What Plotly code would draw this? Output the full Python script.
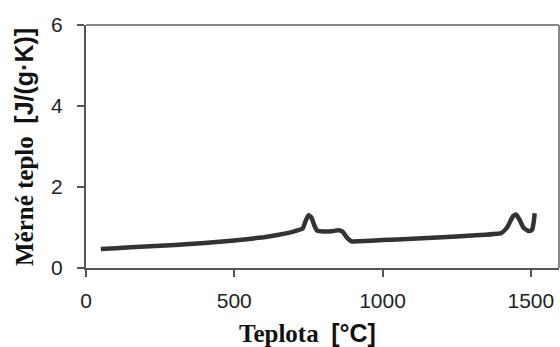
import plotly.graph_objects as go

temp = [50, 100, 200, 300, 400, 500, 600, 650, 700, 730, 740, 750, 760, 770, 780, 800, 830, 850, 865, 880, 895, 920,
        1000, 1100, 1200, 1300, 1400, 1420, 1440, 1450, 1460, 1475, 1490, 1500, 1505, 1510, 1513]
cp = [0.47, 0.49, 0.53, 0.57, 0.62, 0.68, 0.76, 0.82, 0.90, 0.97, 1.15, 1.30, 1.25, 1.05, 0.92, 0.90, 0.91, 0.93, 0.90, 0.75, 0.66, 0.66,
      0.69, 0.72, 0.76, 0.80, 0.86, 1.00, 1.28, 1.32, 1.22, 1.00, 0.92, 0.92, 0.96, 1.15, 1.35]
x_ticks = [0, 500, 1000, 1500]
y_ticks = [0, 2, 4, 6]

fig = go.Figure()
fig.add_trace(go.Scatter(x=temp, y=cp, mode="lines",
                         line=dict(color="#333333", width=4.5, shape="spline", smoothing=0.4),
                         showlegend=False))

tickfont = dict(family="Liberation Sans, Arial, sans-serif", size=21, color="#222222")
fig.update_layout(
    width=560, height=347,
    margin=dict(l=86, r=1, t=25, b=79, autoexpand=False),
    paper_bgcolor="white", plot_bgcolor="white",
    xaxis=dict(range=[0, 1595], tickvals=x_ticks, ticks="outside", ticklen=7, tickwidth=2,
               tickcolor="#555555", showline=True, linecolor="#555555", linewidth=2, automargin=False,
               showgrid=False, zeroline=False, tickfont=tickfont, ticklabelstandoff=6),
    yaxis=dict(range=[0, 6], tickvals=y_ticks, ticks="outside", ticklen=7, tickwidth=2, automargin=False,
               tickcolor="#555555", showline=True, linecolor="#555555", linewidth=2,
               showgrid=False, zeroline=False, tickfont=tickfont, ticklabelstandoff=10),
)
fig.add_shape(type="line", xref="paper", yref="paper", x0=0, x1=1, y0=1, y1=1,
              line=dict(color="#888888", width=2))
fig.add_shape(type="line", xref="paper", yref="paper", x0=1, x1=1, y0=0, y1=1,
              line=dict(color="#888888", width=2))

fig.add_annotation(text="<b>Teplota  <span style='font-family:Liberation Sans'>[°C]</span></b>",
                   xref="paper", yref="paper", x=(307 - 86) / 473, y=-(333 - 268) / 243,
                   showarrow=False, xanchor="center", yanchor="middle",
                   font=dict(family="Liberation Serif, Times New Roman, serif", size=25, color="#111111"))
fig.add_annotation(text="<b>Měrné teplo  <span style='font-family:Liberation Sans'>[J/(g·K)]</span></b>",
                   xref="paper", yref="paper", x=-(86 - 24) / 473, y=(268 - 147) / 243,
                   showarrow=False, xanchor="center", yanchor="middle", textangle=-90,
                   font=dict(family="Liberation Serif, Times New Roman, serif", size=25, color="#111111"))

fig.write_html("out.html", config={"displayModeBar": False},
               post_script="document.body.style.margin='0';document.body.style.overflow='hidden';")
